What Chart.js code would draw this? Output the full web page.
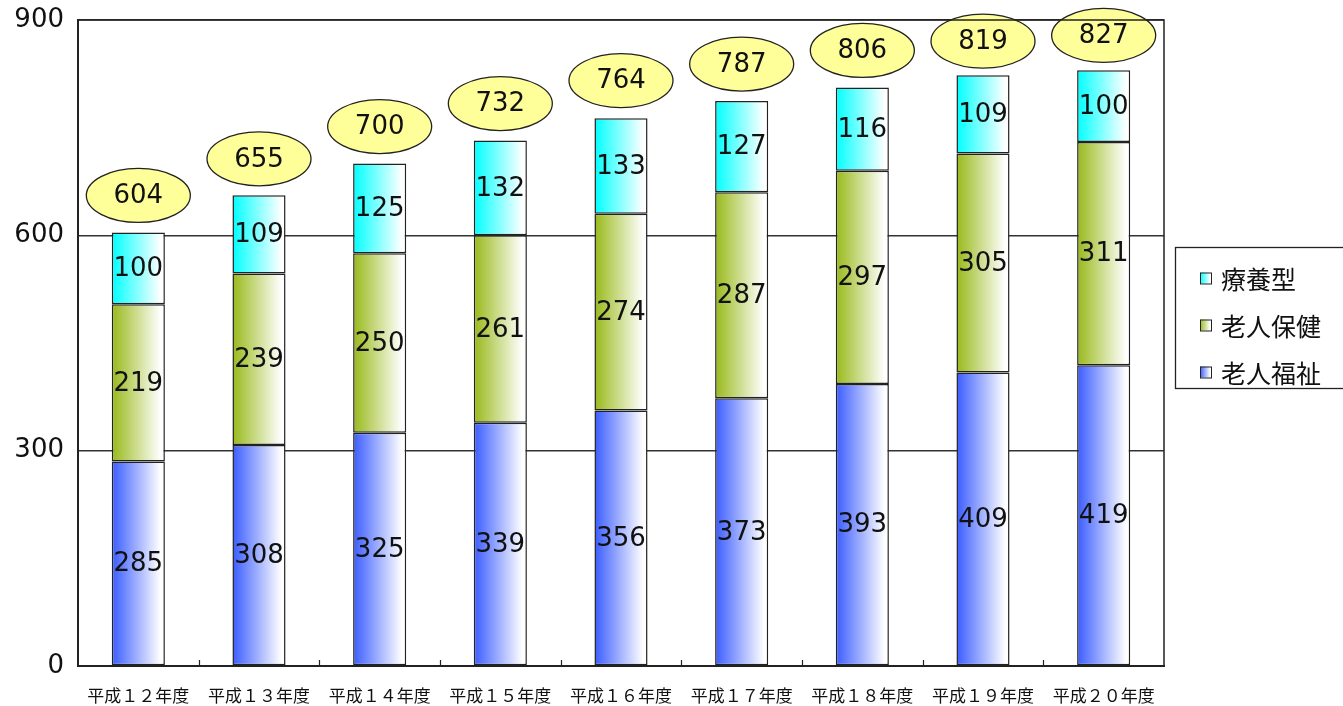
<!DOCTYPE html>
<html>
<head>
<meta charset="utf-8">
<script src="https://cdn.jsdelivr.net/npm/chart.js@4/dist/chart.umd.min.js"></script>
<style>
html,body{margin:0;padding:0;background:#fff;}
#wrap{width:1343px;height:706px;position:relative;}
</style>
</head>
<body>
<div id="wrap"><canvas id="c" width="1343" height="706"></canvas></div>
<script>
const categories = ['平成１２年度','平成１３年度','平成１４年度','平成１５年度','平成１６年度','平成１７年度','平成１８年度','平成１９年度','平成２０年度'];
const rouzinFukushi = [285,308,325,339,356,373,393,409,419];
const rouzinHoken = [219,239,250,261,274,287,297,305,311];
const ryouyou = [100,109,125,132,133,127,116,109,100];
const totals = [604,655,700,732,764,787,806,819,827];
const yTicks = [0,300,600,900];

const seriesNames = ['老人福祉','老人保健','療養型'];
const seriesColors = ['#3a5cff','#98b91a','#00ffff'];

const NUM_FONT = '"DejaVu Sans", sans-serif';
const CJK_FONT = '"Noto Sans CJK JP", sans-serif';
const BAR_PCT = 0.44;

function makeGrad(ctx, x0, x1, color){
  const g = ctx.createLinearGradient(x0,0,x1,0);
  g.addColorStop(0,color);
  g.addColorStop(0.92,'#ffffff');
  g.addColorStop(1,'#ffffff');
  return g;
}

function barFill(c){
  const color = seriesColors[c.datasetIndex] || '#fff';
  if(c.type !== 'data') return color;
  const chart = c.chart;
  const xs = chart.scales.x;
  if(!xs || xs.width == null) return color;
  const n = categories.length;
  const cx = xs.getPixelForValue(c.dataIndex);
  const w = (xs.right - xs.left)/n*BAR_PCT;
  return makeGrad(chart.ctx, cx - w/2, cx + w/2, color);
}

const decorPlugin = {
  id:'decor',
  afterDatasetsDraw(chart){
    const ctx = chart.ctx;
    const ys = chart.scales.y;
    ctx.save();
    ctx.font = '26px ' + NUM_FONT;
    ctx.fillStyle = '#111';
    ctx.textAlign = 'center';
    ctx.textBaseline = 'middle';
    chart.data.datasets.forEach((ds,di)=>{
      const meta = chart.getDatasetMeta(di);
      meta.data.forEach((el,i)=>{
        const p = el.getProps(['x','y','base'],true);
        ctx.fillText(String(ds.data[i]), p.x, (p.y+p.base)/2 + 1);
      });
    });
    const meta0 = chart.getDatasetMeta(0);
    totals.forEach((t,i)=>{
      const x = meta0.data[i].getProps(['x'],true).x;
      const top = ys.getPixelForValue(t);
      const cy = top - 37;
      ctx.beginPath();
      ctx.ellipse(x, cy, 52, 27, 0, 0, Math.PI*2);
      ctx.fillStyle = '#ffff99';
      ctx.fill();
      ctx.lineWidth = 1.3;
      ctx.strokeStyle = '#222';
      ctx.stroke();
      ctx.fillStyle = '#111';
      ctx.fillText(String(t), x, cy + 1);
    });
    ctx.restore();
  },
  afterDraw(chart){
    const ctx = chart.ctx;
    const ca = chart.chartArea;
    ctx.save();
    ctx.strokeStyle = '#222';
    ctx.lineWidth = 1.5;
    ctx.beginPath();
    ctx.moveTo(ca.left, ca.top);
    ctx.lineTo(ca.right, ca.top);
    ctx.lineTo(ca.right, ca.bottom);
    ctx.stroke();
    const n = categories.length;
    const cw = (ca.right-ca.left)/n;
    ctx.lineWidth = 1.2;
    ctx.beginPath();
    for(let i=1;i<n;i++){
      const x = Math.round(ca.left + i*cw)+0.5;
      ctx.moveTo(x, ca.bottom);
      ctx.lineTo(x, ca.bottom-6);
    }
    ctx.stroke();
    const lx=1175.5, ly=247.5, lw=170, lh=141;
    ctx.fillStyle='#fff';
    ctx.fillRect(lx,ly,lw,lh);
    ctx.lineWidth=1.3;
    ctx.strokeStyle='#222';
    ctx.strokeRect(lx,ly,lw,lh);
    const order=[2,1,0];
    const rowY=[278,325,372];
    ctx.font='25px '+CJK_FONT;
    ctx.textBaseline='middle';
    ctx.textAlign='left';
    order.forEach((si,k)=>{
      const y=rowY[k];
      const mx=1200, ms=11;
      ctx.fillStyle=makeGrad(ctx,mx,mx+ms,seriesColors[si]);
      ctx.fillRect(mx,y-ms/2,ms,ms);
      ctx.lineWidth=1;
      ctx.strokeRect(mx+0.5,y-ms/2+0.5,ms,ms);
      ctx.fillStyle='#111';
      ctx.fillText(seriesNames[si],1221,y+1);
    });
    ctx.restore();
  }
};

new Chart(document.getElementById('c'),{
  type:'bar',
  data:{
    labels:categories,
    datasets:[
      {label:seriesNames[0],data:rouzinFukushi},
      {label:seriesNames[1],data:rouzinHoken},
      {label:seriesNames[2],data:ryouyou}
    ].map(d=>Object.assign(d,{
      borderColor:'#222',borderWidth:1.5,borderSkipped:false,
      categoryPercentage:1.0,barPercentage:BAR_PCT,backgroundColor:barFill
    }))
  },
  options:{
    responsive:false,
    animation:false,
    devicePixelRatio:1,
    layout:{padding:{top:20,right:179,left:0,bottom:0}},
    plugins:{legend:{display:false},tooltip:{enabled:false}},
    scales:{
      x:{
        stacked:true,
        grid:{display:false,drawTicks:false},
        border:{display:true,color:'#222',width:2},
        ticks:{font:{family:CJK_FONT,size:17},color:'#111',padding:19,maxRotation:0,autoSkip:false},
        afterFit(s){s.height=40;s.paddingLeft=0;s.paddingRight=0;}
      },
      y:{
        stacked:true,
        min:0,max:900,
        afterBuildTicks(s){s.ticks=yTicks.map(v=>({value:v}));},
        grid:{color:'#333',lineWidth:1.5,drawTicks:false},
        border:{display:true,color:'#222',width:2},
        ticks:{font:{family:NUM_FONT,size:26},color:'#111',padding:14},
        afterFit(s){s.width=78;s.paddingTop=0;s.paddingBottom=0;}
      }
    }
  },
  plugins:[decorPlugin]
});
</script>
</body>
</html>
